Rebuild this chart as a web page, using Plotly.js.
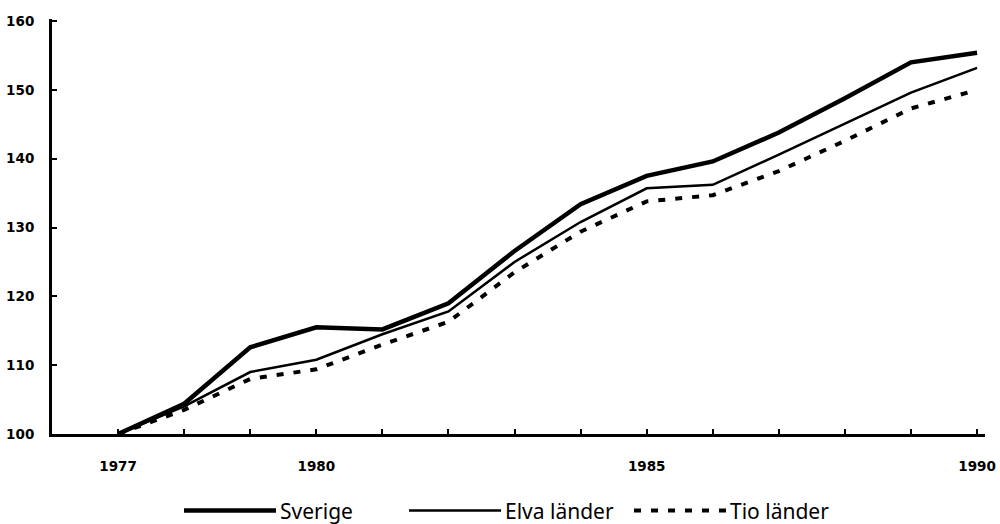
<!DOCTYPE html>
<html>
<head>
<meta charset="utf-8">
<script src="https://cdn.plot.ly/plotly-3.0.1.min.js"></script>
<style>
  html, body { margin: 0; padding: 0; background: #fff; }
  #chart { width: 1000px; height: 524px; }
</style>
</head>
<body>
<div id="chart"></div>
<script>
const years = [1977, 1978, 1979, 1980, 1981, 1982, 1983, 1984, 1985, 1986, 1987, 1988, 1989, 1990];
const sverige = [100, 104.4, 112.6, 115.5, 115.2, 119.0, 126.6, 133.4, 137.5, 139.6, 143.8, 148.8, 154.0, 155.4];
const elvaLander = [100, 104.0, 109.0, 110.8, 114.5, 117.8, 125.0, 130.8, 135.7, 136.2, 140.6, 145.1, 149.6, 153.2];
const tioLander = [100, 103.5, 108.0, 109.4, 113.0, 116.3, 123.5, 129.4, 133.8, 134.7, 138.2, 142.6, 147.3, 150.0];
const xTickVals = years;
const xTickText = ['1977', '', '', '1980', '', '', '', '', '1985', '', '', '', '', '1990'];
const yTickVals = [100, 110, 120, 130, 140, 150, 160];
const seriesNames = ['Sverige', 'Elva länder', 'Tio länder'];

const traces = [
  { x: years, y: sverige, name: seriesNames[0], mode: 'lines',
    line: { color: '#000', width: 4.5 } },
  { x: years, y: elvaLander, name: seriesNames[1], mode: 'lines',
    line: { color: '#000', width: 2.5 } },
  { x: years, y: tioLander, name: seriesNames[2], mode: 'lines',
    line: { color: '#000', width: 4, dash: '7px,10px' } }
];

const tickFont = { family: 'DejaVu Sans, sans-serif', size: 13.5, color: '#000', weight: 'bold' };

const layout = {
  width: 1000, height: 524,
  margin: { l: 52, r: 15, t: 19, b: 90 },
  paper_bgcolor: '#fff', plot_bgcolor: '#fff',
  showlegend: true,
  legend: {
    orientation: 'h', xref: 'container', yref: 'container',
    x: 0.184, xanchor: 'left', y: 0.025, yanchor: 'middle',
    font: { family: 'Noto Sans, DejaVu Sans, sans-serif', size: 21, color: '#000' },
    entrywidth: 124, entrywidthmode: 'pixels', itemwidth: 86,
    tracegroupgap: 0, bgcolor: 'rgba(0,0,0,0)'
  },
  xaxis: {
    range: [1976, 1990.12], showgrid: false, zeroline: false,
    showline: true, linecolor: '#000', linewidth: 3,
    tickmode: 'array', tickvals: xTickVals, ticktext: xTickText,
    ticks: 'inside', ticklen: 5, tickwidth: 2, tickcolor: '#000',
    ticklabelstandoff: 18, tickfont: tickFont
  },
  yaxis: {
    range: [100, 160.3], showgrid: false, zeroline: false,
    showline: true, linecolor: '#000', linewidth: 3,
    tickmode: 'array', tickvals: yTickVals,
    ticks: 'inside', ticklen: 5, tickwidth: 2, tickcolor: '#000',
    ticklabelstandoff: 12, tickfont: tickFont
  }
};

Plotly.newPlot('chart', traces, layout, { displayModeBar: false, staticPlot: true }).then(function (gd) {
  // lengthen legend sample lines to match the original key
  gd.querySelectorAll('.legend .legendlines path').forEach(function (p) {
    p.setAttribute('d', 'M0,0h92');
  });
});
</script>
</body>
</html>
